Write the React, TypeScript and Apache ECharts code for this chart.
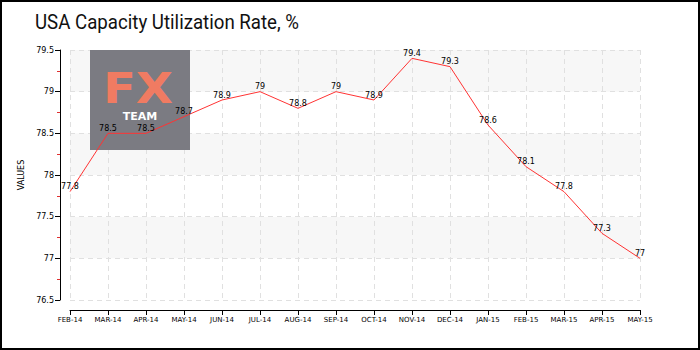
import React, { useEffect, useRef } from "react";
import * as echarts from "echarts";

const categories = ["FEB-14","MAR-14","APR-14","MAY-14","JUN-14","JUL-14","AUG-14","SEP-14","OCT-14","NOV-14","DEC-14","JAN-15","FEB-15","MAR-15","APR-15","MAY-15"];
const values = [77.8, 78.5, 78.5, 78.7, 78.9, 79, 78.8, 79, 78.9, 79.4, 79.3, 78.6, 78.1, 77.8, 77.3, 77];
const title = "USA Capacity Utilization Rate, %";
const yName = "VALUES";

export default function App() {
  const ref = useRef<HTMLDivElement>(null);
  useEffect(() => {
    document.body.style.margin = "0";
    const chart = echarts.init(ref.current!, null, { renderer: "svg" });
    const font = "DejaVu Sans";
    chart.setOption({
      animation: false,
      backgroundColor: "#fff",
      grid: { left: 70, right: 60, top: 50, bottom: 50 },
      xAxis: {
        type: "category",
        data: categories,
        boundaryGap: false,
        offset: 10,
        axisLine: { lineStyle: { color: "#000", width: 1 } },
        axisTick: { length: 5, lineStyle: { color: "#000" } },
        axisLabel: { fontFamily: font, fontSize: 7, color: "#000", margin: 6 },
        splitLine: { show: true, lineStyle: { color: "#e0e0e0", type: [5, 4] } },
      },
      yAxis: {
        type: "value",
        min: 76.5,
        max: 79.5,
        interval: 0.5,
        offset: 10,
        name: yName,
        nameLocation: "middle",
        nameGap: 28,
        nameTextStyle: { fontFamily: font, fontSize: 8, color: "#000" },
        axisLine: { show: true, lineStyle: { color: "#000", width: 1 } },
        axisTick: { show: true, length: 5, lineStyle: { color: "#000" } },
        minorTick: { show: true, splitNumber: 2, length: 3, lineStyle: { color: "#e03030" } },
        axisLabel: { fontFamily: font, fontSize: 8, color: "#000", margin: 6 },
        splitLine: { show: true, lineStyle: { color: "#e0e0e0", type: [5, 4] } },
        splitArea: { show: true, areaStyle: { color: ["#ffffff", "#f7f7f7"] } },
      },
      graphic: [
        {
          type: "text",
          z: 1,
          x: 35,
          y: 22,
          scaleX: 0.89,
          style: { text: title, fill: "#111", fontFamily: "Roboto", fontSize: 21, align: "left", verticalAlign: "middle" },
        },
        {
          type: "rect",
          z: 1,
          shape: { x: 90, y: 50, width: 100, height: 100 },
          style: { fill: "#7b7b82" },
        },
        {
          type: "text",
          z: 2,
          x: 138,
          y: 89,
          scaleX: 1.15,
          style: { text: "FX", fill: "#f07b62", fontFamily: font, fontSize: 42, fontWeight: "bold", align: "center", verticalAlign: "middle" },
        },
        {
          type: "text",
          z: 2,
          x: 140,
          y: 116,
          style: { text: "TEAM", fill: "#ffffff", fontFamily: font, fontSize: 11, fontWeight: "bold", align: "center", verticalAlign: "middle" },
        },
        {
          type: "rect",
          z: 100,
          shape: { x: 1, y: 1, width: 698, height: 348 },
          style: { fill: "none", stroke: "#000", lineWidth: 2 },
        },
      ],
      series: [
        {
          type: "line",
          data: values,
          symbol: "circle",
          symbolSize: 0,
          z: 10,
          lineStyle: { color: "#ff3333", width: 1 },
          itemStyle: { color: "#ff3333" },
          label: { show: true, position: "top", fontFamily: font, fontSize: 8, color: "#000", distance: 1 },
        },
      ],
    });
    return () => chart.dispose();
  }, []);
  return <div ref={ref} style={{ position: "absolute", left: 0, top: 0, width: 700, height: 350 }} />;
}
